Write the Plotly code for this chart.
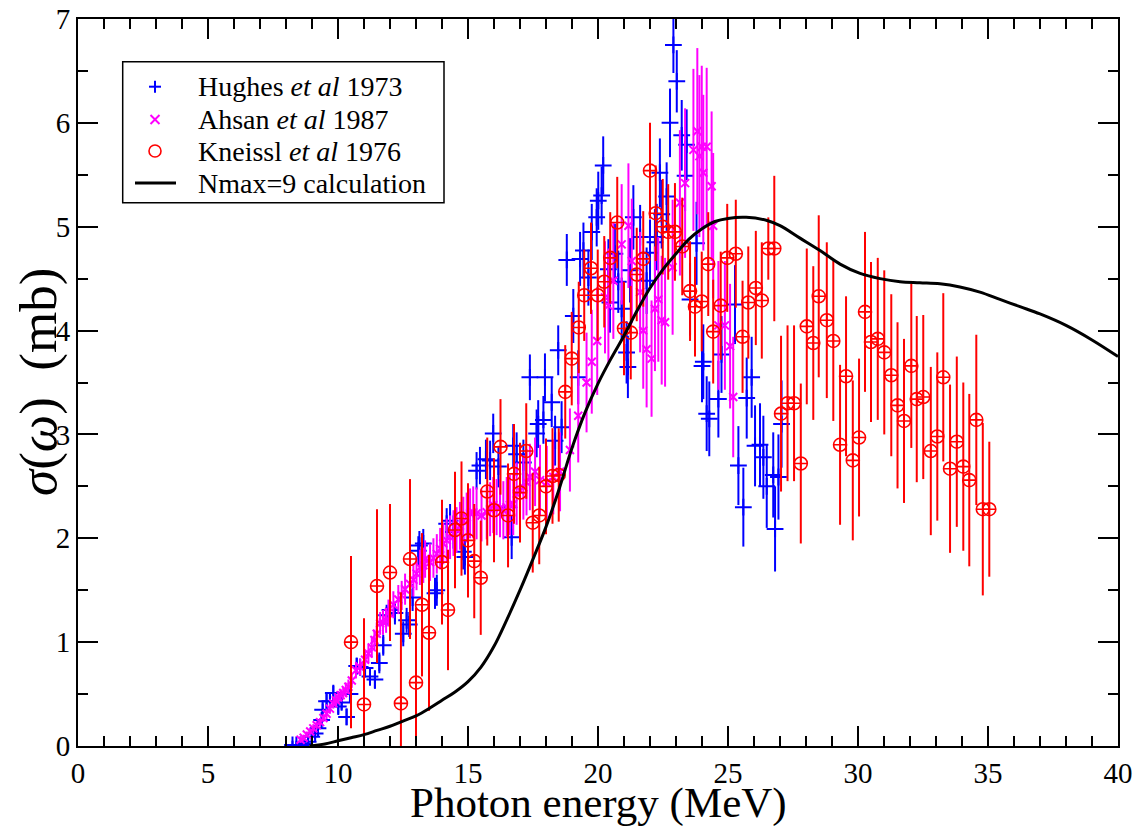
import plotly.graph_objects as go

# ---------------- data ----------------
# Hughes et al 1973 (blue +)
hughes_x = [8.25, 8.40, 8.55, 8.70, 8.85, 8.99, 9.12, 9.23, 9.37, 9.41, 9.56, 9.69, 9.82, 10.01, 10.14,
            10.33, 10.46, 10.72, 10.85, 11.04, 11.23, 11.42, 11.59, 11.74, 11.87, 12.00, 12.19, 12.51,
            12.64, 12.74, 12.87, 13.09, 13.13, 13.28, 13.73, 13.80, 14.18, 14.31, 14.44, 14.82, 14.88,
            15.33, 15.46, 15.69, 15.85, 15.97, 16.17, 16.55, 16.68, 16.74, 16.87, 17.13, 17.38, 17.64,
            17.70, 17.90, 17.96, 18.22, 18.35, 18.47, 18.60, 18.80, 19.05, 19.24, 19.31, 19.44, 19.63,
            19.76, 19.95, 20.01, 20.14, 20.20, 20.40, 20.46, 20.65, 20.78, 20.91, 21.10, 21.15, 21.23,
            21.36, 21.62, 21.87, 22.00, 22.19, 22.26, 22.38, 22.45, 22.64, 22.77, 22.90, 23.03, 23.22,
            23.35, 23.41, 23.54, 23.79, 24.00, 24.05, 24.18, 24.28, 24.63, 24.75, 25.27, 25.40, 25.59,
            25.72, 25.91, 26.04, 26.23, 26.36, 26.49, 26.74, 26.81, 26.94, 27.06]
hughes_y = [0.01, 0.01, 0.01, 0.02, 0.04, 0.09, 0.12, 0.17, 0.25, 0.35, 0.43, 0.43, 0.51, 0.38, 0.42,
            0.28, 0.50, 0.77, 0.76, 0.75, 0.67, 0.64, 0.80, 0.97, 1.26, 1.31, 1.28, 1.08,
            1.21, 1.17, 1.43, 1.88, 1.93, 1.95, 1.47, 1.50, 2.14, 2.17, 2.06, 1.87, 1.82,
            2.65, 2.70, 2.76, 2.75, 3.01, 2.69, 2.30, 2.01, 2.89, 2.81, 2.73, 3.55, 3.01,
            3.10, 3.14, 3.55, 3.31, 2.94, 3.81, 3.07, 4.68, 4.14, 3.55, 4.69, 4.77, 4.51,
            4.95, 5.09, 5.25, 5.30, 5.59, 4.59, 4.27, 4.74, 4.47, 4.21, 3.79, 3.65, 4.58,
            5.09, 4.90, 4.48, 4.75, 4.85, 4.90, 5.52, 5.12, 5.29, 6.00, 6.75, 6.40, 5.88,
            5.49, 5.79, 4.30, 4.84, 3.66, 3.70, 3.20, 3.15, 3.34, 3.77, 4.25, 2.70, 2.30,
            3.35, 3.55, 2.89, 2.90, 2.78, 2.50, 2.61, 2.09, 2.59, 3.10]
hughes_err = [0.04, 0.04, 0.04, 0.04, 0.05, 0.05, 0.05, 0.06, 0.06, 0.06, 0.07, 0.07, 0.07, 0.07, 0.07,
              0.08, 0.08, 0.08, 0.08, 0.09, 0.09, 0.09, 0.10, 0.10, 0.10, 0.11, 0.11, 0.12,
              0.12, 0.12, 0.13, 0.14, 0.14, 0.14, 0.15, 0.15, 0.15, 0.16, 0.16, 0.17, 0.17,
              0.18, 0.18, 0.19, 0.19, 0.19, 0.20, 0.20, 0.21, 0.21, 0.21, 0.22, 0.22, 0.23,
              0.23, 0.23, 0.23, 0.24, 0.24, 0.24, 0.25, 0.25, 0.26, 0.26, 0.26, 0.27, 0.27,
              0.27, 0.28, 0.28, 0.28, 0.28, 0.29, 0.29, 0.29, 0.30, 0.30, 0.30, 0.30, 0.31,
              0.31, 0.31, 0.32, 0.32, 0.32, 0.32, 0.33, 0.33, 0.33, 0.33, 0.27, 0.30, 0.34,
              0.34, 0.34, 0.35, 0.40, 0.35, 0.36, 0.36, 0.36, 0.37, 0.37, 0.38, 0.38, 0.38,
              0.39, 0.39, 0.39, 0.40, 0.40, 0.40, 0.41, 0.41, 0.41, 0.42]

# Ahsan et al 1987 (magenta x)
ahsan_x = [8.56, 8.68, 8.80, 8.93, 9.05, 9.18, 9.31, 9.44, 9.56, 9.69, 9.82, 9.92, 10.01, 10.10, 10.20,
           10.30, 10.40, 10.53, 10.69, 10.85, 11.04, 11.17, 11.30, 11.40, 11.49, 11.62, 11.73, 11.85,
           11.94, 12.13, 12.32, 12.45, 12.58, 12.77, 12.90, 13.02, 13.15, 13.28, 13.35, 13.54, 13.67,
           13.80, 13.93, 14.05, 14.18, 14.31, 14.44, 14.56, 14.69, 14.82, 14.95, 15.08, 15.20, 15.33,
           15.52, 15.72, 15.85, 15.97, 16.10, 16.23, 16.36, 16.49, 16.61, 16.74, 16.87, 17.00, 17.13,
           17.25, 17.38, 17.58, 17.77, 18.03, 18.28, 18.54, 18.92, 19.24, 19.56, 19.76, 19.97, 20.27,
           20.40, 20.59, 20.91, 21.17, 21.30, 21.62, 21.74, 21.87, 22.06, 22.19, 22.32, 22.45, 22.58,
           22.87, 23.15, 23.35, 23.67, 23.82, 23.90, 23.99, 24.05, 24.18, 24.37, 24.43, 24.63, 24.88,
           25.08, 25.20]
ahsan_y = [0.06, 0.08, 0.11, 0.14, 0.17, 0.20, 0.23, 0.27, 0.31, 0.36, 0.41, 0.44, 0.47, 0.49, 0.51,
           0.54, 0.57, 0.63, 0.73, 0.76, 0.83, 0.89, 0.95, 1.02, 1.08, 1.18, 1.19, 1.21,
           1.28, 1.36, 1.41, 1.45, 1.51, 1.56, 1.60, 1.66, 1.72, 1.74, 1.80, 1.77, 1.81,
           1.85, 1.90, 1.95, 1.98, 2.01, 2.05, 2.08, 2.12, 2.17, 2.20, 2.24, 2.25, 2.24,
           2.22, 2.25, 2.28, 2.32, 2.30, 2.29, 2.27, 2.30, 2.32, 2.33, 2.43, 2.46, 2.49,
           2.54, 2.59, 2.64, 2.56, 2.54, 2.59, 2.64, 2.85, 3.18, 3.50, 3.70, 3.90, 4.32,
           4.24, 4.48, 4.83, 5.01, 4.67, 4.37, 4.00, 3.82, 3.73, 4.21, 4.30, 4.10, 4.08,
           4.61, 5.23, 5.42, 5.74, 5.92, 5.68, 5.77, 5.52, 5.77, 5.39, 5.01, 4.05, 4.05,
           3.85, 3.36]
ahsan_err = [0.03, 0.03, 0.03, 0.03, 0.04, 0.04, 0.04, 0.04, 0.05, 0.05, 0.05, 0.05, 0.06, 0.06, 0.06,
             0.07, 0.07, 0.07, 0.08, 0.08, 0.09, 0.09, 0.10, 0.10, 0.11, 0.11, 0.12, 0.12,
             0.13, 0.13, 0.14, 0.14, 0.15, 0.15, 0.16, 0.16, 0.17, 0.17, 0.18, 0.18, 0.19,
             0.19, 0.20, 0.20, 0.21, 0.21, 0.22, 0.22, 0.23, 0.23, 0.24, 0.24, 0.25, 0.25,
             0.25, 0.26, 0.26, 0.27, 0.27, 0.28, 0.28, 0.29, 0.29, 0.30, 0.30, 0.31, 0.31,
             0.32, 0.32, 0.33, 0.34, 0.35, 0.36, 0.38, 0.40, 0.45, 0.48, 0.50, 0.52, 0.54,
             0.55, 0.56, 0.58, 0.60, 0.60, 0.58, 0.56, 0.56, 0.56, 0.60, 0.60, 0.62, 0.62,
             0.65, 0.70, 0.72, 0.78, 0.80, 0.78, 0.78, 0.75, 0.76, 0.72, 0.70, 0.62, 0.62,
             0.60, 0.58]

# Kneissl et al 1976 (red circles)
kneissl_x = [10.50, 11.00, 11.50, 12.00, 12.42, 12.77, 13.00, 13.23, 13.50, 14.00, 14.23, 14.50, 14.75,
             15.00, 15.24, 15.49, 15.74, 16.00, 16.25, 16.54, 16.77, 17.00, 17.24, 17.49, 17.74, 18.00,
             18.25, 18.49, 18.74, 18.99, 19.26, 19.47, 19.73, 19.99, 20.24, 20.47, 20.74, 21.00, 21.26,
             21.49, 21.74, 22.00, 22.22, 22.49, 22.70, 22.96, 23.24, 23.54, 23.73, 23.99, 24.24, 24.43,
             24.72, 24.97, 25.30, 25.56, 25.78, 26.07, 26.30, 26.55, 26.78, 27.04, 27.29, 27.54, 27.80,
             28.03, 28.28, 28.49, 28.80, 29.05, 29.31, 29.54, 29.80, 30.04, 30.27, 30.50, 30.76, 31.01,
             31.28, 31.52, 31.77, 32.05, 32.26, 32.51, 32.80, 33.05, 33.28, 33.54, 33.80, 34.05, 34.28,
             34.55, 34.80, 35.05]
kneissl_y = [1.00, 0.40, 1.54, 1.67, 0.41, 1.80, 0.61, 1.36, 1.09, 1.77, 1.31, 2.08, 2.19,
             1.98, 1.78, 1.62, 2.45, 2.27, 2.88, 2.22, 2.62, 2.44, 2.84, 2.15, 2.22, 2.50,
             2.60, 2.61, 3.41, 3.73, 4.03, 4.34, 4.60, 4.34, 4.47, 4.70, 5.04, 4.02, 3.98,
             4.54, 4.69, 5.54, 5.13, 5.00, 4.95, 4.95, 4.81, 4.38, 4.23, 4.28, 4.64, 3.99,
             4.24, 4.70, 4.74, 3.94, 4.27, 4.41, 4.29, 4.79, 4.79, 3.20, 3.30, 3.30, 2.72,
             4.04, 3.88, 4.33, 4.10, 3.90, 2.90, 3.56, 2.75, 2.97, 4.18, 3.89, 3.92, 3.79,
             3.57, 3.28, 3.13, 3.66, 3.34, 3.36, 2.84, 2.98, 3.55, 2.67, 2.93, 2.69, 2.56,
             3.14, 2.28, 2.28]
kneissl_err = [0.83, 0.83, 0.74, 0.66, 1.07, 0.77, 0.72, 0.69, 0.75, 0.60, 0.58, 0.56, 0.55,
               0.55, 0.55, 0.55, 0.52, 0.50, 0.46, 0.50, 0.48, 0.48, 0.46, 0.48, 0.47, 0.46,
               0.46, 0.45, 0.45, 0.45, 0.44, 0.44, 0.44, 0.44, 0.44, 0.44, 0.44, 0.45, 0.45,
               0.45, 0.46, 0.46, 0.46, 0.46, 0.46, 0.47, 0.47, 0.48, 0.48, 0.48, 0.50, 0.50,
               0.52, 0.52, 0.52, 0.54, 0.54, 0.55, 0.56, 0.30, 0.70, 0.75, 0.75, 0.75, 0.77,
               0.75, 0.74, 0.78, 0.75, 0.77, 0.77, 0.77, 0.77, 0.76, 0.77, 0.77, 0.78, 0.79,
               0.78, 0.80, 0.79, 0.79, 0.80, 0.79, 0.81, 0.81, 0.81, 0.81, 0.82, 0.81, 0.83,
               0.82, 0.83, 0.65]

# Nmax=9 calculation (black curve)
calc_x = [8.9, 9.5, 10.0, 10.5, 11.0, 11.5, 12.0, 12.5, 13.0, 13.5, 14.0, 14.5, 15.0, 15.5, 16.0,
          16.5, 17.0, 17.5, 18.0, 18.5, 19.0, 19.5, 20.0, 20.5, 21.0, 21.5, 22.0, 22.5, 23.0, 23.5,
          24.0, 24.5, 25.0, 25.7, 26.5, 27.0, 27.77, 28.54, 29.31, 30.08, 30.85, 31.62, 32.38, 33.15,
          33.92, 34.69, 35.46, 36.23, 37.0, 38.0, 39.0, 40.0]
calc_y = [0.0, 0.02, 0.05, 0.08, 0.11, 0.15, 0.19, 0.24, 0.29, 0.36, 0.44, 0.52, 0.62, 0.76, 0.96,
          1.22, 1.50, 1.80, 2.11, 2.47, 2.87, 3.21, 3.49, 3.73, 3.95, 4.19, 4.41, 4.59, 4.74, 4.88,
          4.98, 5.05, 5.08, 5.09, 5.06, 5.01, 4.89, 4.77, 4.64, 4.55, 4.50, 4.47, 4.46, 4.45,
          4.42, 4.37, 4.30, 4.23, 4.16, 4.05, 3.91, 3.75]

legend_names = ["Hughes <i>et al</i> 1973", "Ahsan <i>et al</i> 1987",
                "Kneissl <i>et al</i> 1976", "Nmax=9 calculation"]

x_ticks = [0, 5, 10, 15, 20, 25, 30, 35, 40]
y_ticks = [0, 1, 2, 3, 4, 5, 6, 7]

# ---------------- layout helpers (pixel -> paper) ----------------
W, H = 1134, 826
L, R, T, B = 78, 16, 19, 80
PW, PH = W - L - R, H - T - B


def px(xpix):
    return (xpix - L) / PW


def py(ypix):
    return (H - B - ypix) / PH


SERIF = "Liberation Serif"
BLUE, MAG, RED = "#0000ff", "#ff00ff", "#ff0000"

fig = go.Figure()
fig.add_trace(go.Scatter(
    x=hughes_x, y=hughes_y, mode="markers", name=legend_names[0], showlegend=False,
    marker=dict(symbol="cross-thin-open", size=12, color=BLUE, line=dict(color=BLUE, width=2)),
    error_y=dict(type="data", array=hughes_err, color=BLUE, thickness=2, width=0),
))
fig.add_trace(go.Scatter(
    x=ahsan_x, y=ahsan_y, mode="markers", name=legend_names[1], showlegend=False,
    marker=dict(symbol="x-thin-open", size=8, color=MAG, line=dict(color=MAG, width=2)),
    error_y=dict(type="data", array=ahsan_err, color=MAG, thickness=2, width=0),
))
fig.add_trace(go.Scatter(
    x=kneissl_x, y=kneissl_y, mode="markers", name=legend_names[2], showlegend=False,
    marker=dict(symbol="circle-cross-open", size=13, color=RED, line=dict(color=RED, width=1.6)),
    error_y=dict(type="data", array=kneissl_err, color=RED, thickness=2, width=0),
))
fig.add_trace(go.Scatter(
    x=calc_x, y=calc_y, mode="lines", name=legend_names[3], showlegend=False,
    line=dict(color="black", width=3, shape="spline", smoothing=1.0),
))

axis_common = dict(
    showline=True, linecolor="black", linewidth=2, mirror="allticks",
    ticks="inside", ticklen=20, tickwidth=2, tickcolor="black",
    showgrid=False, zeroline=False, automargin=False,
    tickfont=dict(family=SERIF, size=29, color="black"),
)
fig.update_xaxes(range=[0, 40], tickvals=x_ticks,
                 minor=dict(dtick=1, ticks="inside", ticklen=10, tickwidth=2, tickcolor="black", showgrid=False),
                 **axis_common)
fig.update_yaxes(range=[0, 7], tickvals=y_ticks,
                 minor=dict(dtick=0.5, ticks="inside", ticklen=10, tickwidth=2, tickcolor="black", showgrid=False),
                 **axis_common)

# ---------------- legend drawn with shapes + annotations ----------------
rows = [86.7, 119.5, 151.0, 183.0]
sx = 155
shapes = [
    dict(type="rect", xref="paper", yref="paper", x0=px(122.7), x1=px(444), y0=py(202.7), y1=py(61.7),
         line=dict(color="black", width=1.5), fillcolor="white", layer="above"),
    # blue +
    dict(type="line", xref="paper", yref="paper", x0=px(sx - 6), x1=px(sx + 6), y0=py(rows[0]), y1=py(rows[0]),
         line=dict(color=BLUE, width=2), layer="above"),
    dict(type="line", xref="paper", yref="paper", x0=px(sx), x1=px(sx), y0=py(rows[0] - 6), y1=py(rows[0] + 6),
         line=dict(color=BLUE, width=2), layer="above"),
    # magenta x
    dict(type="line", xref="paper", yref="paper", x0=px(sx - 4.5), x1=px(sx + 4.5), y0=py(rows[1] - 4.5),
         y1=py(rows[1] + 4.5), line=dict(color=MAG, width=2), layer="above"),
    dict(type="line", xref="paper", yref="paper", x0=px(sx - 4.5), x1=px(sx + 4.5), y0=py(rows[1] + 4.5),
         y1=py(rows[1] - 4.5), line=dict(color=MAG, width=2), layer="above"),
    # red circle
    dict(type="circle", xref="paper", yref="paper", x0=px(sx - 6), x1=px(sx + 6), y0=py(rows[2] + 6),
         y1=py(rows[2] - 6), line=dict(color=RED, width=1.6), layer="above"),
    # black line
    dict(type="line", xref="paper", yref="paper", x0=px(135), x1=px(176), y0=py(rows[3]), y1=py(rows[3]),
         line=dict(color="black", width=3), layer="above"),
]
annotations = [
    dict(text=name, xref="paper", yref="paper", x=px(196), y=py(r), xanchor="left", yanchor="middle",
         showarrow=False, font=dict(family=SERIF, size=28, color="black"))
    for name, r in zip(legend_names, rows)
]
annotations += [
    dict(text="Photon energy (MeV)", xref="paper", yref="paper", x=0.5, y=py(803),
         xanchor="center", yanchor="middle", showarrow=False,
         font=dict(family=SERIF, size=43, color="black")),
    dict(text="<i>σ</i>(<i>ω</i>)  (mb)", xref="paper", yref="paper", x=px(38), y=py(382),
         xanchor="center", yanchor="middle", textangle=-90, showarrow=False,
         font=dict(family=SERIF, size=53, color="black")),
]

fig.update_layout(
    width=W, height=H,
    margin=dict(l=L, r=R, t=T, b=B, autoexpand=False),
    paper_bgcolor="white", plot_bgcolor="white",
    font=dict(family=SERIF, color="black"),
    showlegend=False,
    shapes=shapes,
    annotations=annotations,
)

fig.write_html("out.html")
